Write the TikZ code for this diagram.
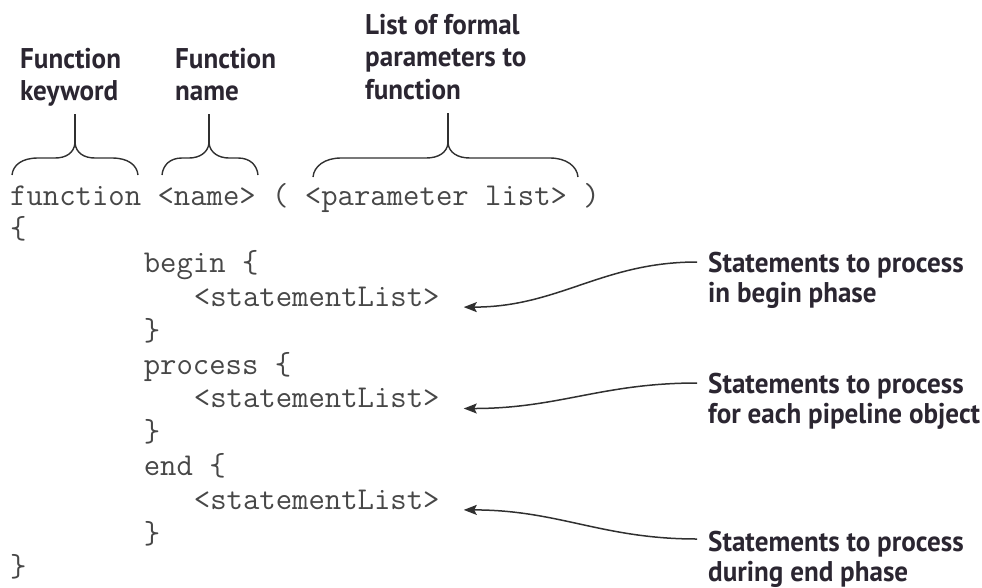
\documentclass[tikz,border=0pt]{standalone}
\usepackage{fontspec}
\setmainfont{Liberation Serif}
\newfontfamily\codefont{Latin Modern Mono}
\newfontfamily\labfont[FakeStretch=0.95]{PT Sans}
\usetikzlibrary{arrows.meta,calc}
\definecolor{codegray}{HTML}{474747}
\definecolor{labink}{HTML}{2B2631}
\definecolor{lineink}{HTML}{303030}
\newcommand{\lablines}[1]{\begin{tabular}[t]{@{}l@{}}#1\end{tabular}}
\tikzset{
  code/.style={font=\codefont\fontsize{31.8}{36}\selectfont, text=codegray, inner sep=0pt, anchor=base west},
  lab/.style={font=\labfont\bfseries\fontsize{28.5}{32.5}\selectfont, text=labink, inner sep=0pt, anchor=base west},
  rlab/.style={font=\labfont\bfseries\fontsize{28.5}{30}\selectfont, text=labink, inner sep=0pt, anchor=base west},
  bracestroke/.style={draw=lineink, line width=1.4pt},
  callout/.style={draw=lineink, line width=1.5pt, -{Stealth[length=13pt,width=10pt,inset=2.5pt]}}
}
\begin{document}
\begin{tikzpicture}[x=1pt,y=-1pt]
\useasboundingbox (0,0) rectangle (982,587);

% code lines (baseline = 205 + 33.8 i)
\node[code] (c0) at (10,205) {function <name> ( <parameter list> )};
\node[code] (c1) at (10,238.8) {\{};
\node[code] (c2) at (143.6,272.6) {begin \{};
\node[code] (s1) at (193.7,306.4) {<statementList>};
\node[code] (c4) at (143.6,340.2) {\}};
\node[code] (c5) at (143.6,374) {process \{};
\node[code] (s2) at (193.7,407.8) {<statementList>};
\node[code] (c7) at (143.6,441.6) {\}};
\node[code] (c8) at (143.6,475.4) {end \{};
\node[code] (s3) at (193.7,509.2) {<statementList>};
\node[code] (c10) at (143.6,543) {\}};
\node[code] (c11) at (10,576.8) {\}};

% top labels
\node[lab] (kw) at (20,68) {\lablines{Function\\keyword}};
\node[lab] (nm) at (175,68) {\lablines{Function\\name}};
\node[lab] (pl) at (365,34) {\lablines{List of formal\\parameters to\\function}};

% right labels
\node[rlab] (r1) at (708,272) {\lablines{Statements to process\\in begin phase}};
\node[rlab] (r2) at (708,393) {\lablines{Statements to process\\for each pipeline object}};
\node[rlab] (r3) at (708,551) {\lablines{Statements to process\\during end phase}};

% braces
\coordinate (b1t) at (75,143);
\coordinate (b2t) at (209,143);
\coordinate (b3t) at (448,143);
\path[bracestroke] (12,175) .. controls (13,165) and (22,158) .. (38,158) -- (55,158)
   .. controls (66,158) and (74,153) .. (b1t) .. controls (76,153) and (84,158) .. (95,158)
   -- (112,158) .. controls (128,158) and (137,165) .. (138,175);
\path[bracestroke] (162,175) .. controls (163,165) and (170,158) .. (182,158) -- (189,158)
   .. controls (199,158) and (208,153) .. (b2t) .. controls (210,153) and (219,158) .. (229,158)
   -- (238,158) .. controls (250,158) and (257,165) .. (258,175);
\path[bracestroke] (313,177) .. controls (314,166) and (325,158) .. (341,158) -- (426,158)
   .. controls (438,158) and (447,153) .. (b3t) .. controls (449,153) and (458,158) .. (470,158)
   -- (550,158) .. controls (566,158) and (577,166) .. (578,177);
\draw[bracestroke] (b1t) -- ($(b1t |- kw.south)+(0,4)$);
\draw[bracestroke] (b2t) -- ($(b2t |- nm.south)+(0,4)$);
\draw[bracestroke] (b3t) -- ($(b3t |- pl.south)+(0,4)$);

% callout arrows
\coordinate (a1) at ($(r1.base west)+(-11,-10)$);
\coordinate (a2) at ($(r2.base west)+(-11,-10)$);
\coordinate (a3) at ($(r3.base west)+(-11,-12)$);
\coordinate (t1) at ($(s1.mid east)+(24,3)$);
\coordinate (t2) at ($(s2.mid east)+(24,3)$);
\coordinate (t3) at ($(s3.mid east)+(24,3)$);
\draw[callout] (a1) .. controls ($(a1)+(-95,0)$) and ($(t1)+(95,0)$) .. (t1);
\draw[callout] (a2) .. controls ($(a2)+(-95,0)$) and ($(t2)+(95,0)$) .. (t2);
\draw[callout] (a3) .. controls ($(a3)+(-95,0)$) and ($(t3)+(95,0)$) .. (t3);
\end{tikzpicture}
\end{document}
